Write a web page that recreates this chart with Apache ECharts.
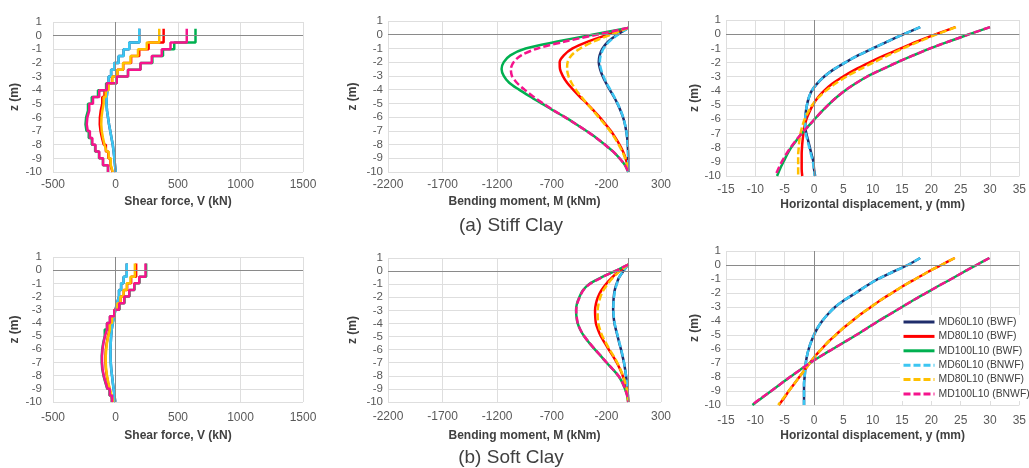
<!DOCTYPE html>
<html>
<head>
<meta charset="utf-8">
<script src="https://cdn.jsdelivr.net/npm/echarts@6.0.0/dist/echarts.min.js"></script>
<style>
  html, body { margin: 0; padding: 0; background: #fff; }
  #chart { width: 1029px; height: 468px; }
</style>
</head>
<body>
<div id="chart"></div>
<script>
// depth of each point (m), pile head at +0.5
const zLevels = [0.5, 0, -0.5, -1, -1.5, -2, -2.5, -3, -3.5, -4, -4.5, -5, -5.5, -6, -6.5, -7, -7.5, -8, -8.5, -9, -9.5, -10];

const seriesNames = ['MD60L10 (BWF)', 'MD80L10 (BWF)', 'MD100L10 (BWF)', 'MD60L10 (BNWF)', 'MD80L10 (BNWF)', 'MD100L10 (BNWF)'];

// (a) stiff clay - shear force V (kN), value held from z[i] down to z[i+1]
const shearStiff60BWF = [190, 190, 110, 65, 25, -10, -35, -55, -65, -70, -72, -68, -60, -52, -42, -32, -22, -15, -9, -4, 2, 2];
const shearStiff80BWF = [385, 385, 265, 190, 125, 62, 15, -28, -62, -88, -106, -118, -125, -126, -120, -108, -94, -77, -58, -40, -24, -24];
const shearStiff100BWF = [640, 640, 470, 380, 295, 200, 100, 10, -75, -140, -190, -220, -235, -240, -232, -214, -190, -163, -132, -100, -60, -60];
const shearStiff60BNWF = [190, 190, 110, 65, 25, -10, -35, -55, -65, -70, -72, -68, -60, -52, -42, -32, -22, -15, -9, -4, 2, 2];
const shearStiff80BNWF = [350, 350, 250, 180, 120, 60, 15, -25, -55, -78, -95, -105, -112, -114, -110, -100, -88, -72, -55, -38, -22, -22];
const shearStiff100BNWF = [570, 570, 440, 370, 290, 200, 100, 10, -70, -130, -180, -210, -225, -230, -222, -205, -185, -160, -130, -100, -60, -60];

// (a) stiff clay - bending moment M (kNm)
const momentStiff60BWF = [0, -100, -185, -235, -262, -270, -258, -235, -205, -170, -133, -100, -72, -48, -31, -19, -10, -5, -2, 0, 0, 0];
const momentStiff80BWF = [0, -190, -370, -510, -590, -628, -625, -600, -560, -505, -445, -380, -320, -262, -210, -160, -118, -80, -48, -24, -8, 0];
const momentStiff100BWF = [0, -330, -650, -940, -1080, -1140, -1160, -1140, -1090, -1000, -900, -795, -690, -580, -480, -385, -295, -215, -140, -80, -30, 0];
const momentStiff60BNWF = [0, -95, -175, -225, -252, -260, -250, -228, -200, -165, -130, -98, -70, -47, -30, -18, -10, -5, -2, 0, 0, 0];
const momentStiff80BNWF = [0, -160, -320, -440, -520, -555, -560, -548, -520, -480, -432, -380, -325, -272, -218, -168, -125, -88, -55, -28, -10, 0];
const momentStiff100BNWF = [0, -290, -580, -830, -980, -1050, -1075, -1065, -1020, -950, -870, -780, -685, -580, -480, -385, -295, -215, -140, -80, -30, 0];

// (a) stiff clay - horizontal displacement y (mm)
const dispStiff60BWF = [18.1, 15.3, 12.6, 10.0, 7.5, 5.3, 3.3, 1.7, 0.5, -0.4, -0.9, -1.2, -1.4, -1.5, -1.5, -1.3, -1.0, -0.7, -0.4, -0.1, 0.0, 0.2];
const dispStiff80BWF = [24.1, 20.8, 17.7, 14.8, 12.0, 9.4, 7.0, 4.9, 3.1, 1.7, 0.6, -0.2, -0.8, -1.3, -1.6, -1.8, -1.95, -2.05, -2.1, -2.1, -2.1, -2.0];
const dispStiff100BWF = [30.0, 26.5, 23.1, 19.8, 16.9, 14.1, 11.5, 9.0, 7.0, 5.2, 3.7, 2.4, 1.2, 0.1, -1.0, -2.1, -3.0, -3.9, -4.6, -5.2, -5.8, -6.3];
const dispStiff60BNWF = [18.1, 15.3, 12.6, 10.0, 7.5, 5.3, 3.3, 1.7, 0.5, -0.4, -0.9, -1.2, -1.4, -1.5, -1.5, -1.4, -1.1, -0.8, -0.5, -0.2, 0.0, 0.1];
const dispStiff80BNWF = [24.2, 21.0, 18.0, 15.2, 12.6, 10.1, 7.7, 5.5, 3.6, 2.0, 0.7, -0.3, -1.0, -1.6, -2.0, -2.3, -2.5, -2.6, -2.7, -2.7, -2.7, -2.7];
const dispStiff100BNWF = [30.0, 26.5, 23.1, 19.8, 16.9, 14.1, 11.5, 9.0, 7.0, 5.2, 3.7, 2.4, 1.2, 0.1, -1.0, -2.1, -3.1, -4.0, -4.8, -5.5, -6.1, -6.6];

// (b) soft clay - shear force V (kN)
const shearSoft60BWF = [90, 90, 65, 45, 28, 12, 0, -12, -22, -30, -35, -38, -40, -40, -38, -34, -28, -22, -15, -8, -2, -2];
const shearSoft80BWF = [165, 165, 125, 93, 66, 40, 15, -9, -30, -47, -60, -70, -77, -80, -80, -77, -70, -60, -48, -34, -20, -20];
const shearSoft100BWF = [245, 245, 192, 152, 112, 72, 32, -8, -44, -68, -86, -98, -106, -110, -110, -106, -96, -82, -66, -48, -30, -30];
const shearSoft60BNWF = [90, 90, 65, 45, 28, 12, 0, -12, -22, -30, -35, -38, -40, -40, -38, -34, -28, -22, -15, -8, -2, -2];
const shearSoft80BNWF = [155, 155, 120, 90, 65, 40, 15, -8, -28, -45, -58, -68, -74, -78, -78, -75, -68, -58, -46, -32, -18, -18];
const shearSoft100BNWF = [240, 240, 190, 150, 110, 70, 30, -10, -45, -68, -84, -96, -104, -108, -108, -104, -94, -80, -64, -46, -28, -28];

// (b) soft clay - bending moment M (kNm)
const momentSoft60BWF = [0, -45, -85, -108, -125, -133, -137, -138, -134, -126, -112, -97, -82, -66, -52, -39, -29, -20, -13, -8, -3, 0];
const momentSoft80BWF = [0, -80, -150, -205, -248, -278, -296, -304, -302, -296, -276, -250, -214, -178, -140, -105, -75, -50, -30, -15, -5, 0];
const momentSoft100BWF = [0, -122, -250, -360, -418, -448, -470, -478, -474, -463, -438, -402, -355, -304, -250, -197, -142, -91, -55, -30, -10, 0];
const momentSoft60BNWF = [0, -45, -85, -105, -122, -130, -135, -136, -132, -124, -110, -95, -80, -64, -50, -38, -28, -20, -13, -8, -3, 0];
const momentSoft80BNWF = [0, -76, -140, -190, -230, -256, -272, -280, -280, -274, -258, -235, -203, -170, -134, -100, -72, -48, -29, -14, -5, 0];
const momentSoft100BNWF = [0, -120, -245, -355, -415, -445, -468, -476, -472, -462, -437, -401, -354, -303, -249, -196, -141, -90, -54, -29, -10, 0];

// (b) soft clay - horizontal displacement y (mm)
const dispSoft60BWF = [18.1, 16.0, 13.4, 10.9, 8.9, 7.1, 5.2, 3.6, 2.4, 1.4, 0.6, 0.0, -0.5, -0.9, -1.2, -1.4, -1.5, -1.6, -1.7, -1.7, -1.7, -1.7];
const dispSoft80BWF = [24.0, 21.7, 19.4, 17.3, 15.2, 13.3, 11.4, 9.7, 8.0, 6.5, 5.0, 3.7, 2.4, 1.3, 0.2, -0.7, -1.6, -2.5, -3.4, -4.3, -5.1, -6.0];
const dispSoft100BWF = [29.9, 27.7, 25.5, 23.4, 21.2, 19.1, 17.0, 15.0, 13.0, 11.0, 9.1, 7.2, 5.2, 3.2, 1.2, -0.7, -2.4, -4.1, -5.7, -7.3, -8.9, -10.5];
const dispSoft60BNWF = [18.1, 16.0, 13.4, 10.9, 8.9, 7.1, 5.2, 3.6, 2.4, 1.4, 0.6, 0.0, -0.5, -0.9, -1.2, -1.4, -1.5, -1.6, -1.7, -1.7, -1.7, -1.7];
const dispSoft80BNWF = [24.0, 21.7, 19.4, 17.3, 15.2, 13.3, 11.4, 9.7, 8.0, 6.5, 5.0, 3.7, 2.4, 1.3, 0.2, -0.7, -1.6, -2.5, -3.4, -4.3, -5.2, -6.1];
const dispSoft100BNWF = [29.9, 27.7, 25.5, 23.4, 21.2, 19.1, 17.0, 15.0, 13.0, 11.0, 9.1, 7.2, 5.2, 3.2, 1.2, -0.7, -2.4, -4.1, -5.7, -7.3, -9.0, -10.6];

const colors = ['#1f2d6b', '#ff0000', '#00b050', '#3cc6f2', '#ffc000', '#f5148c'];
const font = 'Liberation Sans, Arial, sans-serif';

const panels = [
  { kind: 'shear', data: [shearStiff60BWF, shearStiff80BWF, shearStiff100BWF, shearStiff60BNWF, shearStiff80BNWF, shearStiff100BNWF],
    grid: { left: 53, top: 22, width: 250, height: 150 }, xMin: -500, xMax: 1500, xStep: 500,
    xName: 'Shear force, V (kN)', nameGap: 24, labelMargin: 7, yLabelMargin: 11, yNameGap: 32 },
  { kind: 'moment', data: [momentStiff60BWF, momentStiff80BWF, momentStiff100BWF, momentStiff60BNWF, momentStiff80BNWF, momentStiff100BNWF],
    grid: { left: 388, top: 21, width: 273, height: 151 }, xMin: -2200, xMax: 300, xStep: 500,
    xName: 'Bending moment, M (kNm)', nameGap: 24, labelMargin: 7, yLabelMargin: 5, yNameGap: 29 },
  { kind: 'disp', data: [dispStiff60BWF, dispStiff80BWF, dispStiff100BWF, dispStiff60BNWF, dispStiff80BNWF, dispStiff100BNWF],
    grid: { left: 726, top: 20, width: 297, height: 156 }, xMin: -15, xMax: 35, xStep: 5,
    xName: 'Horizontal displacement, y (mm)', nameGap: 23, labelMargin: 8, yLabelMargin: 5, yNameGap: 25 },
  { kind: 'shear', data: [shearSoft60BWF, shearSoft80BWF, shearSoft100BWF, shearSoft60BNWF, shearSoft80BNWF, shearSoft100BNWF],
    grid: { left: 53, top: 257, width: 250, height: 145 }, xMin: -500, xMax: 1500, xStep: 500,
    xName: 'Shear force, V (kN)', nameGap: 28, labelMargin: 10, yLabelMargin: 11, yNameGap: 32 },
  { kind: 'moment', data: [momentSoft60BWF, momentSoft80BWF, momentSoft100BWF, momentSoft60BNWF, momentSoft80BNWF, momentSoft100BNWF],
    grid: { left: 388, top: 258, width: 273, height: 144 }, xMin: -2200, xMax: 300, xStep: 500,
    xName: 'Bending moment, M (kNm)', nameGap: 28, labelMargin: 9, yLabelMargin: 5, yNameGap: 29 },
  { kind: 'disp', data: [dispSoft60BWF, dispSoft80BWF, dispSoft100BWF, dispSoft60BNWF, dispSoft80BNWF, dispSoft100BNWF],
    grid: { left: 726, top: 251, width: 297, height: 154 }, xMin: -15, xMax: 35, xStep: 5,
    xName: 'Horizontal displacement, y (mm)', nameGap: 25, labelMargin: 10, yLabelMargin: 5, yNameGap: 25 }
];

const grids = [];
const xAxes = [];
const yAxes = [];
const lineSeries = [];
const stepSeries = [];

panels.forEach((p, i) => {
  grids.push(p.grid);
  xAxes.push({
    type: 'value', gridIndex: i, min: p.xMin, max: p.xMax, interval: p.xStep,
    name: p.xName, nameLocation: 'middle', nameGap: p.nameGap,
    nameTextStyle: { fontFamily: font, fontSize: 12, fontWeight: 'bold', color: '#404040' },
    axisLine: { show: false }, axisTick: { show: false },
    axisLabel: { fontFamily: font, fontSize: 12, color: '#595959', margin: p.labelMargin, formatter: v => String(v) },
    splitLine: { lineStyle: { color: '#dedede', width: 1 } }
  });
  yAxes.push({
    type: 'value', gridIndex: i, min: -10, max: 1, interval: 1,
    name: 'z (m)', nameLocation: 'middle', nameGap: p.yNameGap, nameRotate: 90,
    nameTextStyle: { fontFamily: font, fontSize: 12, fontWeight: 'bold', color: '#404040' },
    axisLine: { show: false }, axisTick: { show: false },
    axisLabel: { fontFamily: font, fontSize: 11.5, color: '#595959', margin: p.yLabelMargin, formatter: v => String(v) },
    splitLine: { lineStyle: { color: '#dedede', width: 1 } }
  });
  p.data.forEach((vals, j) => {
    const dashed = j >= 3 && p.kind !== 'shear';
    const s = {
      name: seriesNames[j], type: 'line', xAxisIndex: i, yAxisIndex: i,
      data: zLevels.map((z, k) => [vals[k], z]),
      symbol: 'none', animation: false,
      step: p.kind === 'shear' ? 'start' : false,
      smooth: p.kind === 'shear' ? false : 0.3,
      lineStyle: { color: colors[j], width: 2.5, type: dashed ? [7, 3] : 'solid' },
      itemStyle: { color: colors[j] }
    };
    if (j === 0) {
      s.markLine = {
        silent: true, symbol: ['none', 'none'], animation: false,
        label: { show: false },
        lineStyle: { color: '#8a8a8a', width: 1, type: 'solid' },
        data: [{ xAxis: 0 }, { yAxis: 0 }]
      };
    }
    (p.kind === 'shear' ? stepSeries : lineSeries).push(s);
  });
});

const chart = echarts.init(document.getElementById('chart'), null, { renderer: 'canvas' });
chart.setOption({
  backgroundColor: '#fff',
  animation: false,
  title: [
    { text: '(a) Stiff Clay', left: 506, textAlign: 'center', top: 211,
      textStyle: { fontFamily: font, fontSize: 19, fontWeight: 'normal', color: '#404040' } },
    { text: '(b) Soft Clay', left: 506, textAlign: 'center', top: 443,
      textStyle: { fontFamily: font, fontSize: 19, fontWeight: 'normal', color: '#404040' } }
  ],
  legend: {
    orient: 'vertical', left: 900, top: 315,
    itemWidth: 31, itemHeight: 10, itemGap: 4.4,
    padding: [2, 0, 2, 2], backgroundColor: '#ffffff',
    textStyle: { fontFamily: font, fontSize: 10.4, color: '#404040', padding: [0, 0, 0, -1] },
    itemStyle: { opacity: 0, borderWidth: 0 },
    lineStyle: { width: 3 },
    data: seriesNames
  },
  grid: grids,
  xAxis: xAxes,
  yAxis: yAxes,
  // dashed/smooth series first so the legend icons take their style
  series: lineSeries.concat(stepSeries)
});
</script>
</body>
</html>
